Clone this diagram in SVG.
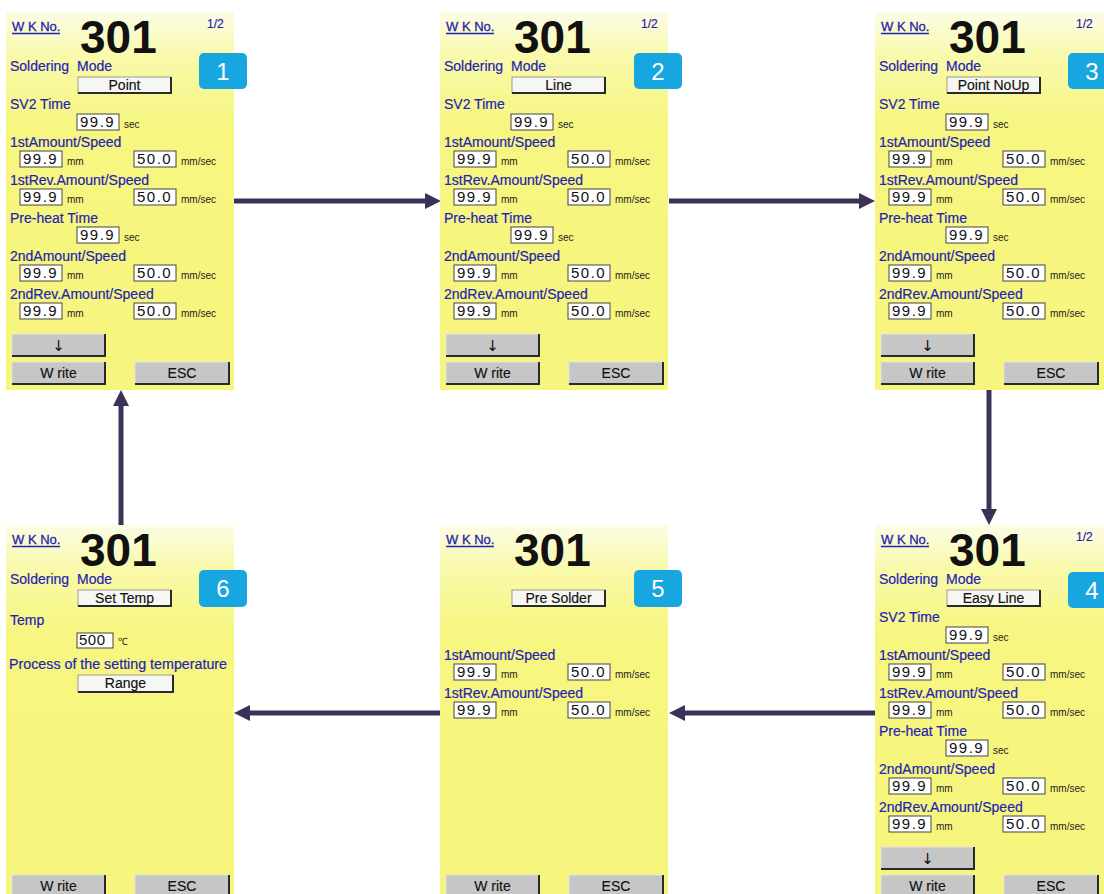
<svg xmlns="http://www.w3.org/2000/svg" width="1104" height="894" viewBox="0 0 1104 894">
<defs>
<linearGradient id="bgg" x1="0" y1="0" x2="0" y2="1">
<stop offset="0" stop-color="#fcfce6"/>
<stop offset="0.12" stop-color="#f9f9aa"/>
<stop offset="0.3" stop-color="#f6f680"/>
<stop offset="1" stop-color="#f6f67e"/>
</linearGradient>
<marker id="ah" markerUnits="userSpaceOnUse" markerWidth="16" markerHeight="16" refX="0" refY="8" orient="auto">
<path d="M0,0 L16,8 L0,16 Z" fill="#3c3258"/>
</marker>
<style>
.bg{fill:url(#bgg)}
text{font-family:"Liberation Sans",Arial,sans-serif}
.wk{font-size:13px;fill:#1f23b3;stroke:#1f23b3;stroke-width:0.3px}
.ul{stroke:#1f23b3;stroke-width:1.3}
.num{font-size:46px;font-weight:bold;fill:#111}
.pg{font-size:12px;fill:#1f23b3;stroke:#1f23b3;stroke-width:0.2px}
.lb{font-size:14px;fill:#1f23b3;stroke:#1f23b3;stroke-width:0.2px}
.mb{fill:#f6f6f2;stroke:#9a9a9a;stroke-width:1}
.gb{fill:#c6c6c6;stroke:#e2e2e2;stroke-width:1}
.sh{fill:none;stroke:#2a2a2a;stroke-width:2}
.bt{font-size:14px;fill:#111;text-anchor:middle;stroke:#111;stroke-width:0.15px}
.ar{font-family:"DejaVu Sans",sans-serif;font-size:15px;fill:#111;text-anchor:middle}
.fld{fill:#ffffff;stroke:#444;stroke-width:1}
.val{font-size:15px;fill:#111;letter-spacing:1.5px}
.un{font-size:10px;fill:#222}
.bd{fill:#18a6e0}
.bn{font-size:24px;fill:#ffffff;text-anchor:middle}
.cn{fill:none;stroke:#3c3258;stroke-width:5;marker-end:url(#ah)}
</style>
</defs>

<g id="connectors">
<path class="cn" d="M234,201 H425"/>
<path class="cn" d="M669,201 H859"/>
<path class="cn" d="M989,390 V509"/>
<path class="cn" d="M875,713 H685"/>
<path class="cn" d="M440,713 H250"/>
<path class="cn" d="M121,525 V406"/>
</g>

<g id="panel1" transform="translate(6,12)">
<rect class="bg" width="228" height="378"/>
<text class="wk" x="6" y="19">W K No.</text><line class="ul" x1="6" y1="21.5" x2="54" y2="21.5"/>
<text class="num" x="74" y="41">301</text>
<text class="pg" x="201" y="16">1/2</text>
<text class="lb" x="4" y="59">Soldering</text><text class="lb" x="71" y="59">Mode</text>
<rect class="mb" x="72" y="65" width="93" height="16"/><polyline class="sh" points="72,81 165,81 165,65"/>
<text class="bt" x="118.5" y="78">Point</text>
<text class="lb" x="4" y="97">SV2 Time</text>
<rect class="fld" x="71" y="102" width="42" height="16"/><text class="val" x="74" y="115">99.9</text><text class="un" x="118" y="116">sec</text>
<text class="lb" x="4" y="135">1stAmount/Speed</text>
<rect class="fld" x="14" y="139" width="42" height="16"/><text class="val" x="17" y="152">99.9</text><text class="un" x="61" y="153">mm</text>
<rect class="fld" x="128" y="139" width="42" height="16"/><text class="val" x="131" y="152">50.0</text><text class="un" x="175" y="153">mm/sec</text>
<text class="lb" x="4" y="173">1stRev.Amount/Speed</text>
<rect class="fld" x="14" y="177" width="42" height="16"/><text class="val" x="17" y="190">99.9</text><text class="un" x="61" y="191">mm</text>
<rect class="fld" x="128" y="177" width="42" height="16"/><text class="val" x="131" y="190">50.0</text><text class="un" x="175" y="191">mm/sec</text>
<text class="lb" x="4" y="211">Pre-heat Time</text>
<rect class="fld" x="71" y="215" width="42" height="16"/><text class="val" x="74" y="228">99.9</text><text class="un" x="118" y="229">sec</text>
<text class="lb" x="4" y="249">2ndAmount/Speed</text>
<rect class="fld" x="14" y="253" width="42" height="16"/><text class="val" x="17" y="266">99.9</text><text class="un" x="61" y="267">mm</text>
<rect class="fld" x="128" y="253" width="42" height="16"/><text class="val" x="131" y="266">50.0</text><text class="un" x="175" y="267">mm/sec</text>
<text class="lb" x="4" y="287">2ndRev.Amount/Speed</text>
<rect class="fld" x="14" y="291" width="42" height="16"/><text class="val" x="17" y="304">99.9</text><text class="un" x="61" y="305">mm</text>
<rect class="fld" x="128" y="291" width="42" height="16"/><text class="val" x="131" y="304">50.0</text><text class="un" x="175" y="305">mm/sec</text>
<rect class="gb" x="6" y="322" width="93" height="22"/><polyline class="sh" points="6,344 99,344 99,322"/><text class="ar" x="52.5" y="339">↓</text>
<rect class="gb" x="6" y="350" width="93" height="22"/><polyline class="sh" points="6,372 99,372 99,350"/><text class="bt" x="52.5" y="366">W rite</text>
<rect class="gb" x="129" y="350" width="94" height="22"/><polyline class="sh" points="129,372 223,372 223,350"/><text class="bt" x="176" y="366">ESC</text>
<rect class="bd" x="193" y="41" width="48" height="36" rx="5"/><text class="bn" x="217" y="68">1</text>
</g>

<g id="panel2" transform="translate(440,12)">
<rect class="bg" width="228" height="378"/>
<text class="wk" x="6" y="19">W K No.</text><line class="ul" x1="6" y1="21.5" x2="54" y2="21.5"/>
<text class="num" x="74" y="41">301</text>
<text class="pg" x="201" y="16">1/2</text>
<text class="lb" x="4" y="59">Soldering</text><text class="lb" x="71" y="59">Mode</text>
<rect class="mb" x="72" y="65" width="93" height="16"/><polyline class="sh" points="72,81 165,81 165,65"/>
<text class="bt" x="118.5" y="78">Line</text>
<text class="lb" x="4" y="97">SV2 Time</text>
<rect class="fld" x="71" y="102" width="42" height="16"/><text class="val" x="74" y="115">99.9</text><text class="un" x="118" y="116">sec</text>
<text class="lb" x="4" y="135">1stAmount/Speed</text>
<rect class="fld" x="14" y="139" width="42" height="16"/><text class="val" x="17" y="152">99.9</text><text class="un" x="61" y="153">mm</text>
<rect class="fld" x="128" y="139" width="42" height="16"/><text class="val" x="131" y="152">50.0</text><text class="un" x="175" y="153">mm/sec</text>
<text class="lb" x="4" y="173">1stRev.Amount/Speed</text>
<rect class="fld" x="14" y="177" width="42" height="16"/><text class="val" x="17" y="190">99.9</text><text class="un" x="61" y="191">mm</text>
<rect class="fld" x="128" y="177" width="42" height="16"/><text class="val" x="131" y="190">50.0</text><text class="un" x="175" y="191">mm/sec</text>
<text class="lb" x="4" y="211">Pre-heat Time</text>
<rect class="fld" x="71" y="215" width="42" height="16"/><text class="val" x="74" y="228">99.9</text><text class="un" x="118" y="229">sec</text>
<text class="lb" x="4" y="249">2ndAmount/Speed</text>
<rect class="fld" x="14" y="253" width="42" height="16"/><text class="val" x="17" y="266">99.9</text><text class="un" x="61" y="267">mm</text>
<rect class="fld" x="128" y="253" width="42" height="16"/><text class="val" x="131" y="266">50.0</text><text class="un" x="175" y="267">mm/sec</text>
<text class="lb" x="4" y="287">2ndRev.Amount/Speed</text>
<rect class="fld" x="14" y="291" width="42" height="16"/><text class="val" x="17" y="304">99.9</text><text class="un" x="61" y="305">mm</text>
<rect class="fld" x="128" y="291" width="42" height="16"/><text class="val" x="131" y="304">50.0</text><text class="un" x="175" y="305">mm/sec</text>
<rect class="gb" x="6" y="322" width="93" height="22"/><polyline class="sh" points="6,344 99,344 99,322"/><text class="ar" x="52.5" y="339">↓</text>
<rect class="gb" x="6" y="350" width="93" height="22"/><polyline class="sh" points="6,372 99,372 99,350"/><text class="bt" x="52.5" y="366">W rite</text>
<rect class="gb" x="129" y="350" width="94" height="22"/><polyline class="sh" points="129,372 223,372 223,350"/><text class="bt" x="176" y="366">ESC</text>
<rect class="bd" x="194" y="41" width="48" height="36" rx="5"/><text class="bn" x="218" y="68">2</text>
</g>

<g id="panel3" transform="translate(875,12)">
<rect class="bg" width="229" height="378"/>
<text class="wk" x="6" y="19">W K No.</text><line class="ul" x1="6" y1="21.5" x2="54" y2="21.5"/>
<text class="num" x="74" y="41">301</text>
<text class="pg" x="201" y="16">1/2</text>
<text class="lb" x="4" y="59">Soldering</text><text class="lb" x="71" y="59">Mode</text>
<rect class="mb" x="72" y="65" width="93" height="16"/><polyline class="sh" points="72,81 165,81 165,65"/>
<text class="bt" x="118.5" y="78">Point NoUp</text>
<text class="lb" x="4" y="97">SV2 Time</text>
<rect class="fld" x="71" y="102" width="42" height="16"/><text class="val" x="74" y="115">99.9</text><text class="un" x="118" y="116">sec</text>
<text class="lb" x="4" y="135">1stAmount/Speed</text>
<rect class="fld" x="14" y="139" width="42" height="16"/><text class="val" x="17" y="152">99.9</text><text class="un" x="61" y="153">mm</text>
<rect class="fld" x="128" y="139" width="42" height="16"/><text class="val" x="131" y="152">50.0</text><text class="un" x="175" y="153">mm/sec</text>
<text class="lb" x="4" y="173">1stRev.Amount/Speed</text>
<rect class="fld" x="14" y="177" width="42" height="16"/><text class="val" x="17" y="190">99.9</text><text class="un" x="61" y="191">mm</text>
<rect class="fld" x="128" y="177" width="42" height="16"/><text class="val" x="131" y="190">50.0</text><text class="un" x="175" y="191">mm/sec</text>
<text class="lb" x="4" y="211">Pre-heat Time</text>
<rect class="fld" x="71" y="215" width="42" height="16"/><text class="val" x="74" y="228">99.9</text><text class="un" x="118" y="229">sec</text>
<text class="lb" x="4" y="249">2ndAmount/Speed</text>
<rect class="fld" x="14" y="253" width="42" height="16"/><text class="val" x="17" y="266">99.9</text><text class="un" x="61" y="267">mm</text>
<rect class="fld" x="128" y="253" width="42" height="16"/><text class="val" x="131" y="266">50.0</text><text class="un" x="175" y="267">mm/sec</text>
<text class="lb" x="4" y="287">2ndRev.Amount/Speed</text>
<rect class="fld" x="14" y="291" width="42" height="16"/><text class="val" x="17" y="304">99.9</text><text class="un" x="61" y="305">mm</text>
<rect class="fld" x="128" y="291" width="42" height="16"/><text class="val" x="131" y="304">50.0</text><text class="un" x="175" y="305">mm/sec</text>
<rect class="gb" x="6" y="322" width="93" height="22"/><polyline class="sh" points="6,344 99,344 99,322"/><text class="ar" x="52.5" y="339">↓</text>
<rect class="gb" x="6" y="350" width="93" height="22"/><polyline class="sh" points="6,372 99,372 99,350"/><text class="bt" x="52.5" y="366">W rite</text>
<rect class="gb" x="129" y="350" width="94" height="22"/><polyline class="sh" points="129,372 223,372 223,350"/><text class="bt" x="176" y="366">ESC</text>
<rect class="bd" x="193" y="41" width="48" height="36" rx="5"/><text class="bn" x="217" y="68">3</text>
</g>

<g id="panel4" transform="translate(875,525)">
<rect class="bg" width="229" height="369"/>
<text class="wk" x="6" y="19">W K No.</text><line class="ul" x1="6" y1="21.5" x2="54" y2="21.5"/>
<text class="num" x="74" y="41">301</text>
<text class="pg" x="201" y="16">1/2</text>
<text class="lb" x="4" y="59">Soldering</text><text class="lb" x="71" y="59">Mode</text>
<rect class="mb" x="72" y="65" width="93" height="16"/><polyline class="sh" points="72,81 165,81 165,65"/>
<text class="bt" x="118.5" y="78">Easy Line</text>
<text class="lb" x="4" y="97">SV2 Time</text>
<rect class="fld" x="71" y="102" width="42" height="16"/><text class="val" x="74" y="115">99.9</text><text class="un" x="118" y="116">sec</text>
<text class="lb" x="4" y="135">1stAmount/Speed</text>
<rect class="fld" x="14" y="139" width="42" height="16"/><text class="val" x="17" y="152">99.9</text><text class="un" x="61" y="153">mm</text>
<rect class="fld" x="128" y="139" width="42" height="16"/><text class="val" x="131" y="152">50.0</text><text class="un" x="175" y="153">mm/sec</text>
<text class="lb" x="4" y="173">1stRev.Amount/Speed</text>
<rect class="fld" x="14" y="177" width="42" height="16"/><text class="val" x="17" y="190">99.9</text><text class="un" x="61" y="191">mm</text>
<rect class="fld" x="128" y="177" width="42" height="16"/><text class="val" x="131" y="190">50.0</text><text class="un" x="175" y="191">mm/sec</text>
<text class="lb" x="4" y="211">Pre-heat Time</text>
<rect class="fld" x="71" y="215" width="42" height="16"/><text class="val" x="74" y="228">99.9</text><text class="un" x="118" y="229">sec</text>
<text class="lb" x="4" y="249">2ndAmount/Speed</text>
<rect class="fld" x="14" y="253" width="42" height="16"/><text class="val" x="17" y="266">99.9</text><text class="un" x="61" y="267">mm</text>
<rect class="fld" x="128" y="253" width="42" height="16"/><text class="val" x="131" y="266">50.0</text><text class="un" x="175" y="267">mm/sec</text>
<text class="lb" x="4" y="287">2ndRev.Amount/Speed</text>
<rect class="fld" x="14" y="291" width="42" height="16"/><text class="val" x="17" y="304">99.9</text><text class="un" x="61" y="305">mm</text>
<rect class="fld" x="128" y="291" width="42" height="16"/><text class="val" x="131" y="304">50.0</text><text class="un" x="175" y="305">mm/sec</text>
<rect class="gb" x="6" y="322" width="93" height="22"/><polyline class="sh" points="6,344 99,344 99,322"/><text class="ar" x="52.5" y="339">↓</text>
<rect class="gb" x="6" y="350" width="93" height="22"/><polyline class="sh" points="6,372 99,372 99,350"/><text class="bt" x="52.5" y="366">W rite</text>
<rect class="gb" x="129" y="350" width="94" height="22"/><polyline class="sh" points="129,372 223,372 223,350"/><text class="bt" x="176" y="366">ESC</text>
<rect class="bd" x="193" y="47" width="48" height="36" rx="5"/><text class="bn" x="217" y="74">4</text>
</g>

<g id="panel5" transform="translate(440,525)">
<rect class="bg" width="228" height="369"/>
<text class="wk" x="6" y="19">W K No.</text><line class="ul" x1="6" y1="21.5" x2="54" y2="21.5"/>
<text class="num" x="74" y="41">301</text>
<rect class="mb" x="72" y="65" width="93" height="16"/><polyline class="sh" points="72,81 165,81 165,65"/>
<text class="bt" x="118.5" y="78">Pre Solder</text>
<text class="lb" x="4" y="135">1stAmount/Speed</text>
<rect class="fld" x="14" y="139" width="42" height="16"/><text class="val" x="17" y="152">99.9</text><text class="un" x="61" y="153">mm</text>
<rect class="fld" x="128" y="139" width="42" height="16"/><text class="val" x="131" y="152">50.0</text><text class="un" x="175" y="153">mm/sec</text>
<text class="lb" x="4" y="173">1stRev.Amount/Speed</text>
<rect class="fld" x="14" y="177" width="42" height="16"/><text class="val" x="17" y="190">99.9</text><text class="un" x="61" y="191">mm</text>
<rect class="fld" x="128" y="177" width="42" height="16"/><text class="val" x="131" y="190">50.0</text><text class="un" x="175" y="191">mm/sec</text>
<rect class="gb" x="6" y="350" width="93" height="22"/><polyline class="sh" points="6,372 99,372 99,350"/><text class="bt" x="52.5" y="366">W rite</text>
<rect class="gb" x="129" y="350" width="94" height="22"/><polyline class="sh" points="129,372 223,372 223,350"/><text class="bt" x="176" y="366">ESC</text>
<rect class="bd" x="194" y="45" width="48" height="37" rx="5"/><text class="bn" x="218" y="72">5</text>
</g>

<g id="panel6" transform="translate(6,525)">
<rect class="bg" width="228" height="369"/>
<text class="wk" x="6" y="19">W K No.</text><line class="ul" x1="6" y1="21.5" x2="54" y2="21.5"/>
<text class="num" x="74" y="41">301</text>
<text class="lb" x="4" y="59">Soldering</text><text class="lb" x="71" y="59">Mode</text>
<rect class="mb" x="72" y="65" width="93" height="16"/><polyline class="sh" points="72,81 165,81 165,65"/>
<text class="bt" x="118.5" y="78">Set Temp</text>
<text class="lb" x="4" y="100">Temp</text>
<rect class="fld" x="71" y="108" width="36" height="15"/><text class="val" x="73" y="120" style="letter-spacing:0.5px">500</text><text class="un" x="112" y="120">℃</text>
<text class="lb" x="3" y="144" textLength="218" lengthAdjust="spacingAndGlyphs">Process of the setting temperature</text>
<rect class="mb" x="72" y="150" width="95" height="17"/><polyline class="sh" points="72,167 167,167 167,150"/>
<text class="bt" x="119.5" y="163">Range</text>
<rect class="gb" x="6" y="350" width="93" height="22"/><polyline class="sh" points="6,372 99,372 99,350"/><text class="bt" x="52.5" y="366">W rite</text>
<rect class="gb" x="129" y="350" width="94" height="22"/><polyline class="sh" points="129,372 223,372 223,350"/><text class="bt" x="176" y="366">ESC</text>
<rect class="bd" x="193" y="45" width="48" height="37" rx="5"/><text class="bn" x="217" y="72">6</text>
</g>
</svg>
